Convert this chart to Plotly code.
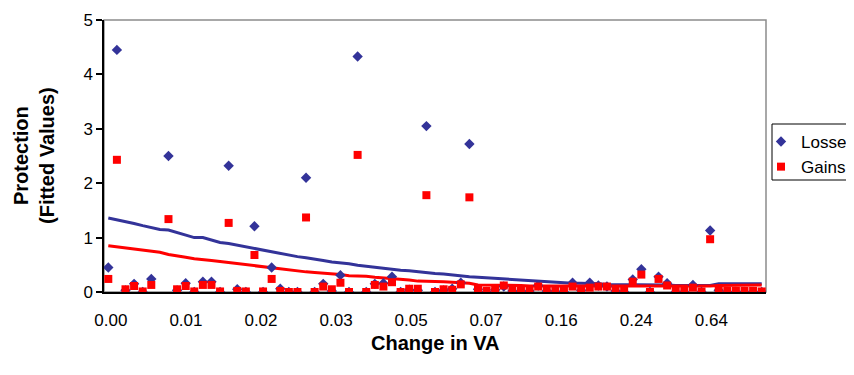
import plotly.graph_objects as go

# ---- data ----
tick_labels = ["0.00", "0.01", "0.02", "0.03", "0.05", "0.07", "0.16", "0.24", "0.64"]
# positions of the labels on the category index scale
tick_pos = [1.3, 10.03, 18.76, 27.49, 36.22, 44.95, 53.68, 62.41, 71.14]

idx = list(range(1, 78))

losses = [
    0.45, 4.45, 0.03, 0.15, 0.00, 0.24, None, 2.50, 0.03, 0.16,
    0.00, 0.19, 0.19, 0.00, 2.32, 0.05, 0.00, 1.21, 0.00, 0.45,
    0.06, 0.00, 0.00, 2.10, 0.00, 0.15, 0.02, 0.31, 0.00, 4.33,
    0.00, 0.15, 0.16, 0.28, 0.00, 0.04, 0.03, 3.05, 0.00, 0.03,
    0.06, 0.17, 2.72, 0.05, 0.00, 0.04, 0.10, 0.02, 0.00, 0.02,
    0.12, 0.02, 0.01, 0.00, 0.17, 0.03, 0.17, 0.12, 0.10, 0.02,
    0.00, 0.23, 0.42, 0.00, 0.28, 0.16, 0.00, 0.00, 0.13, 0.00,
    1.13, 0.03, 0.00, 0.00, 0.00, 0.00, 0.00,
]

gains = [
    0.24, 2.43, 0.05, 0.11, 0.01, 0.13, None, 1.34, 0.05, 0.11,
    0.01, 0.13, 0.13, 0.01, 1.27, 0.02, 0.01, 0.68, 0.01, 0.24,
    0.02, 0.00, 0.00, 1.37, 0.00, 0.10, 0.05, 0.17, 0.00, 2.52,
    0.00, 0.13, 0.10, 0.18, 0.00, 0.06, 0.06, 1.78, 0.00, 0.05,
    0.04, 0.14, 1.74, 0.07, 0.02, 0.07, 0.12, 0.07, 0.03, 0.04,
    0.10, 0.05, 0.03, 0.03, 0.10, 0.05, 0.08, 0.10, 0.10, 0.04,
    0.02, 0.19, 0.32, 0.00, 0.24, 0.12, 0.02, 0.02, 0.08, 0.01,
    0.97, 0.05, 0.02, 0.02, 0.02, 0.02, 0.01,
]

losses_fit = [
    1.36, 1.33, 1.30, 1.26, 1.22, 1.18, 1.15, 1.14, 1.09, 1.04,
    1.00, 1.00, 0.96, 0.91, 0.89, 0.86, 0.82, 0.80, 0.77, 0.74,
    0.71, 0.68, 0.65, 0.63, 0.61, 0.58, 0.55, 0.54, 0.52, 0.49,
    0.47, 0.46, 0.44, 0.42, 0.40, 0.39, 0.37, 0.35, 0.34, 0.33,
    0.31, 0.29, 0.28, 0.27, 0.26, 0.25, 0.24, 0.23, 0.22, 0.20,
    0.19, 0.19, 0.18, 0.17, 0.16, 0.16, 0.16, 0.15, 0.14, 0.14,
    0.13, 0.13, 0.13, 0.13, 0.13, 0.13, 0.12, 0.12, 0.12, 0.12,
    0.12, 0.15, 0.15, 0.15, 0.15, 0.15, 0.15,
]

gains_fit = [
    0.85, 0.83, 0.80, 0.78, 0.77, 0.74, 0.73, 0.69, 0.67, 0.64,
    0.61, 0.60, 0.58, 0.56, 0.54, 0.52, 0.50, 0.48, 0.47, 0.45,
    0.43, 0.41, 0.39, 0.37, 0.36, 0.35, 0.34, 0.32, 0.30, 0.30,
    0.29, 0.27, 0.26, 0.25, 0.24, 0.22, 0.20, 0.20, 0.19, 0.19,
    0.18, 0.17, 0.16, 0.13, 0.13, 0.13, 0.12, 0.12, 0.12, 0.11,
    0.11, 0.11, 0.11, 0.11, 0.10, 0.10, 0.10, 0.10, 0.10, 0.10,
    0.10, 0.10, 0.10, 0.10, 0.10, 0.10, 0.11, 0.11, 0.11, 0.11,
    0.11, 0.12, 0.12, 0.13, 0.13, 0.13, 0.13,
]

BLUE = "#333399"
RED = "#FF0000"
FONT = "Liberation Sans, Arial, sans-serif"

# The page body keeps the browser's default 8px margin, so the figure is laid
# out 8px smaller and all pixel positions below are in figure coordinates.
W, H = 846, 367
L, R, T, B = 96, 88, 12, 83
PW = W - L - R          # plot width  (662)
PH = H - T - B          # plot height (272)
AX_Y = H - B            # y pixel of the x axis (figure coords)


def px_x(p):
    return (p - L) / PW


def px_y(p):
    return (AX_Y - p) / PH


fig = go.Figure()
fig.add_trace(go.Scatter(x=idx, y=losses_fit, mode="lines", line=dict(color=BLUE, width=3),
                         showlegend=False, hoverinfo="skip"))
fig.add_trace(go.Scatter(x=idx, y=gains_fit, mode="lines", line=dict(color=RED, width=3),
                         showlegend=False, hoverinfo="skip"))
fig.add_trace(go.Scatter(x=idx, y=losses, mode="markers", name="Losses",
                         marker=dict(symbol="diamond", size=8, color=BLUE, line=dict(width=0))))
fig.add_trace(go.Scatter(x=idx, y=gains, mode="markers", name="Gains",
                         marker=dict(symbol="square", size=8, color=RED, line=dict(width=0))))

fig.update_layout(
    width=W, height=H,
    margin=dict(l=L, r=R, t=T, b=B, autoexpand=False),
    paper_bgcolor="white", plot_bgcolor="white",
    font=dict(family=FONT, size=17, color="black"),
    xaxis=dict(range=[0.5, 77.5], tickvals=tick_pos, ticktext=tick_labels,
               showgrid=False, zeroline=False, showline=True, linecolor="black", linewidth=1.5,
               ticks="outside", ticklen=12, tickcolor="rgba(0,0,0,0)",
               tickfont=dict(size=17), automargin=False),
    yaxis=dict(range=[0, 5], tickvals=[0, 1, 2, 3, 4, 5], showgrid=False, zeroline=False,
               showline=True, linecolor="black", linewidth=1.5,
               ticks="outside", ticklen=6, tickcolor="black", tickwidth=1.5,
               tickfont=dict(size=17), automargin=False),
    legend=dict(x=px_x(753), y=px_y(116), xanchor="left", yanchor="top",
                bgcolor="rgba(0,0,0,0)", borderwidth=0, font=dict(size=17)),
    shapes=[
        dict(type="rect", xref="paper", yref="paper", x0=0, x1=1, y0=0, y1=1,
             line=dict(color="#8c8c8c", width=1.5), layer="below"),
        dict(type="rect", xref="paper", yref="paper",
             x0=px_x(764), x1=px_x(900), y0=px_y(172), y1=px_y(116),
             line=dict(color="black", width=1), layer="above"),
    ],
    annotations=[
        dict(text="<b>Protection<br>(Fitted Values)</b>", xref="paper", yref="paper",
             x=px_x(26), y=0.5, xanchor="center", yanchor="middle",
             textangle=-90, showarrow=False, font=dict(size=20)),
        dict(text="<b>Change in VA</b>", xref="paper", yref="paper",
             x=0.5, y=px_y(335), xanchor="center", yanchor="middle",
             showarrow=False, font=dict(size=20)),
    ],
)

fig.write_html("out.html")
